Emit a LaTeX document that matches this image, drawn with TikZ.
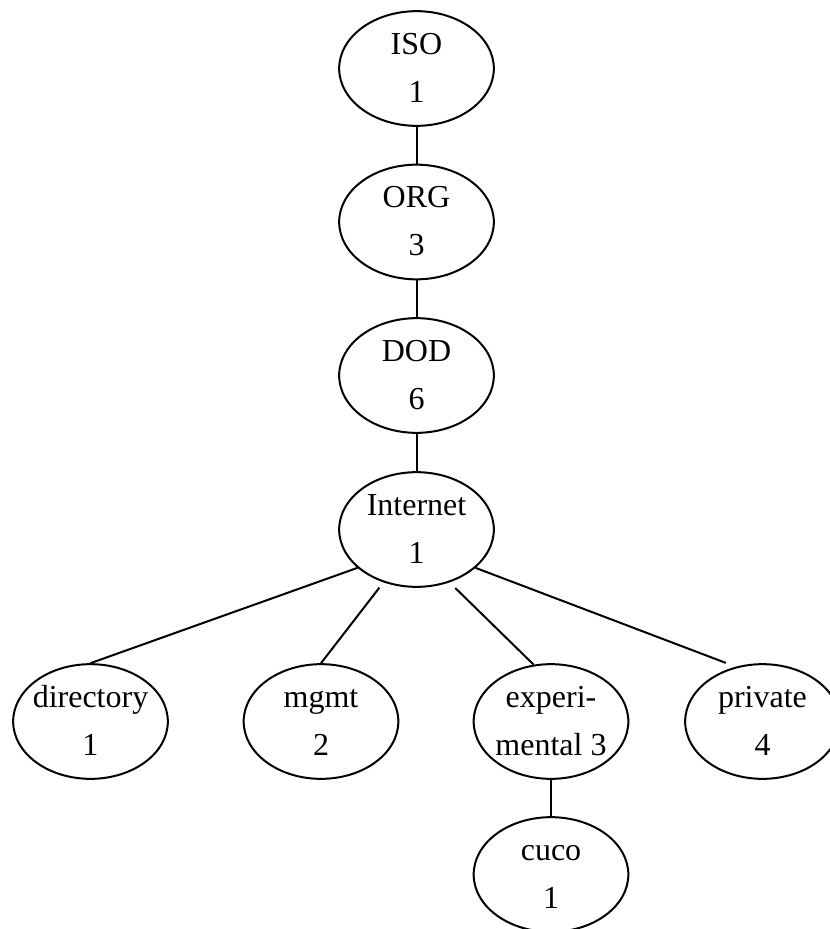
\documentclass[tikz,border=0pt]{standalone}
\usepackage{fontspec}
\setmainfont{Liberation Serif}
\usetikzlibrary{shapes.geometric}
% two centred lines with struts so every label sits on the same baselines
\newcommand{\twoline}[2]{\strut #1\\\strut #2}
\begin{document}
\begin{tikzpicture}[x=0.75pt,y=-0.75pt,
  oid/.style={ellipse, draw, line width=1.5pt, minimum width=116pt,
    minimum height=86pt, inner xsep=-4pt, inner ysep=-20pt, align=center,
    font=\fontsize{24}{36}\selectfont},
  link/.style={line width=1.5pt}]
\useasboundingbox (0,0) rectangle (829,929);

% OID tree nodes
\node[oid] (iso)  at (416.5,68.5)  {\twoline{ISO}{1}};
\node[oid] (org)  at (416.5,222)   {\twoline{ORG}{3}};
\node[oid] (dod)  at (416.5,375.5) {\twoline{DOD}{6}};
\node[oid] (inet) at (416.5,529.5) {\twoline{Internet}{1}};
\node[oid] (dir)  at (90.5,721.5)  {\twoline{directory}{1}};
\node[oid] (mgmt) at (321,721.5)   {\twoline{mgmt}{2}};
\node[oid] (exp)  at (551,721.5)   {\twoline{experi-}{mental 3}};
\node[oid] (priv) at (762.5,721.5) {\twoline{private}{4}};
\node[oid] (cuco) at (551,874.5)   {\twoline{cuco}{1}};

% edges
\draw[link] (iso) -- (org);
\draw[link] (org) -- (dod);
\draw[link] (dod) -- (inet);
\draw[link] (inet.213) -- (dir.north);
\draw[link, shorten <=5pt] (inet.238) -- (mgmt.north);
\draw[link, shorten <=6pt] (inet.302) -- (exp.107);
\draw[link, shorten >=8pt] (inet.327) -- (priv.116);
\draw[link] (exp) -- (cuco);
\end{tikzpicture}
\end{document}
